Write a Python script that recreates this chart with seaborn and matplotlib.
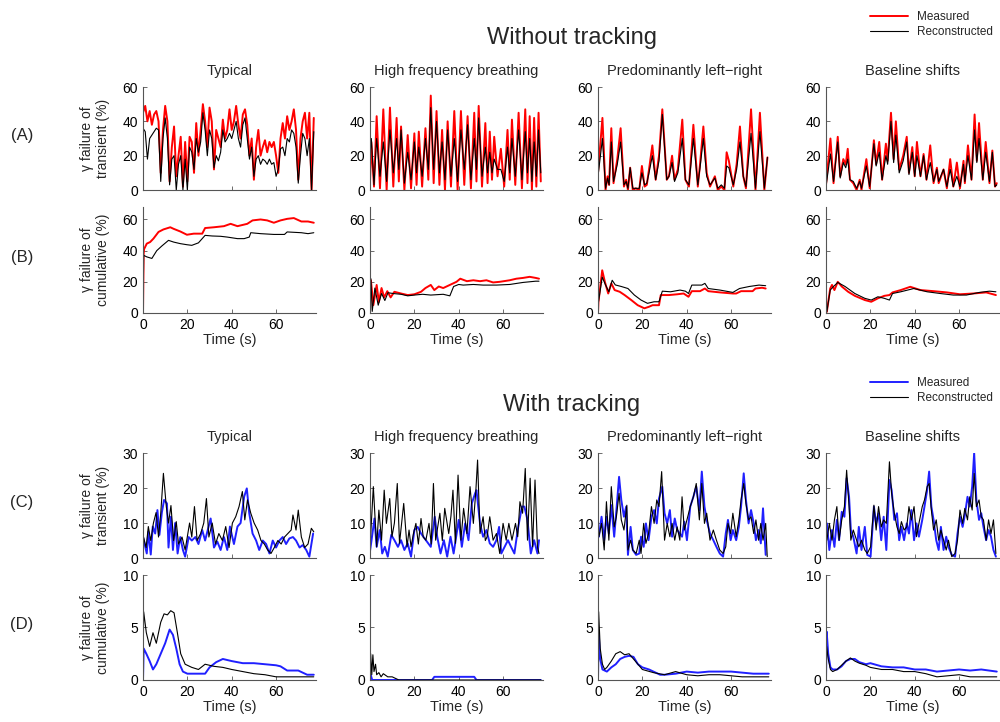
import numpy as np
import matplotlib
matplotlib.use("Agg")
import matplotlib.pyplot as plt
import seaborn as sns
from matplotlib.lines import Line2D

# ---------------- data ----------------
titles = ["Typical", "High frequency breathing", "Predominantly left\u2212right", "Baseline shifts"]

# Row A: transient, without tracking
a_typ_t = np.arange(0, 78)
a_typ_meas = [45, 49, 40, 46, 38, 44, 46, 40, 10, 35, 49, 40, 5, 25, 37, 8, 20, 31, 2, 28,
              5, 31, 28, 10, 39, 20, 35, 50, 40, 25, 48, 40, 12, 35, 30, 25, 41, 30, 35, 47,
              35, 40, 49, 38, 30, 44, 47, 38, 20, 30, 6, 25, 35, 20, 25, 29, 22, 28, 25, 28,
              20, 10, 30, 39, 30, 43, 35, 40, 47, 35, 6, 30, 40, 45, 30, 45, 0, 42]
a_typ_rec = [36, 34, 18, 30, 32, 34, 36, 35, 5, 30, 42, 30, 3, 18, 20, 0, 15, 20, 0, 18,
             0, 25, 22, 12, 30, 22, 28, 45, 35, 20, 35, 30, 13, 20, 17, 22, 35, 28, 30, 33,
             30, 35, 40, 30, 25, 38, 42, 30, 18, 25, 8, 18, 20, 15, 18, 17, 15, 18, 15, 16,
             8, 12, 24, 25, 20, 30, 28, 35, 33, 25, 4, 20, 33, 30, 20, 30, 0, 34]

a_hf_t = [0, 0.6, 1.8, 3, 4.5, 6, 7.5, 9, 10.5, 12, 13, 14, 15.5, 17, 18.5, 20, 21, 22, 23.5, 25,
          26.3, 27.4, 28.7, 30, 31.3, 32.5, 33.8, 35, 36.5, 38, 39.5, 41, 42.5, 44, 45.5, 47, 48, 49, 50.5, 52,
          53, 54, 55, 56, 57.5, 59, 60.5, 62, 63, 64, 65.5, 67, 68.5, 70, 71, 72, 73, 74, 75, 76, 77]
a_hf_meas = [5, 28, 2, 43, 1, 47, 0, 48, 2, 42, 5, 37, 0, 32, 1, 33, 3, 34, 2, 36,
             6, 55, 4, 46, 3, 35, 0, 40, 2, 46, 0, 46, 3, 43, 1, 45, 5, 49, 2, 39,
             4, 34, 6, 31, 8, 24, 2, 35, 6, 41, 3, 45, 1, 47, 4, 43, 0, 42, 2, 45, 5]
a_hf_rec = [20, 30, 3, 30, 8, 28, 5, 35, 10, 30, 12, 35, 4, 22, 6, 28, 10, 25, 8, 30,
            12, 48, 12, 40, 10, 28, 6, 35, 8, 30, 5, 35, 12, 38, 6, 30, 12, 42, 8, 25,
            10, 22, 10, 18, 12, 12, 5, 25, 10, 30, 8, 35, 6, 34, 10, 30, 5, 28, 8, 35, 10]

a_lr_t = [0, 2, 3.4, 4.3, 5, 6, 7, 8.7, 10.2, 11.7, 12.7, 13.5, 14.5, 15.7, 17, 18.6, 19.8, 21, 22, 23,
          24.5, 26, 27.5, 29, 31, 32, 33.4, 34.5, 36, 38, 39.4, 41, 43, 45, 46, 47.5, 49, 50.5, 52.7, 54,
          55.6, 57, 58, 59, 61, 62.5, 64, 65.5, 66.7, 69, 71, 73, 75, 76.4]
a_lr_meas = [10, 42, 0, 8, 3, 36, 4, 18, 36, 2, 6, 0, 13, 0, 1, 0, 14, 2, 3, 12,
             26, 6, 20, 47, 6, 8, 20, 6, 12, 41, 6, 2, 38, 2, 15, 37, 10, 2, 8, 0,
             2, 0, 22, 17, 2, 15, 37, 8, 1, 47, 0, 45, 0, 19]
a_lr_rec = [8, 30, 1, 7, 3, 28, 5, 15, 28, 3, 5, 1, 13, 1, 1, 1, 10, 3, 4, 10,
            20, 6, 17, 44, 6, 8, 16, 5, 10, 30, 6, 3, 30, 3, 13, 30, 8, 3, 7, 1,
            3, 1, 14, 13, 3, 12, 28, 8, 2, 33, 1, 34, 1, 19]

a_bs_t = [0, 2, 3.4, 5.3, 6.4, 7.8, 8.9, 9.8, 10.8, 12.3, 13.8, 15.2, 16, 18.2, 19.7, 21.6, 22.6, 24, 25.3, 27,
          27.8, 29.3, 30.5, 31.5, 33, 34.8, 36.4, 37.4, 38.9, 40, 41, 42.6, 44, 45.3, 47, 48.5, 50, 50.8, 53, 54.5,
          56, 57.4, 59, 60.4, 62, 62.6, 64, 65.6, 67, 68, 69, 70.7, 72, 73.7, 75, 76.2, 77]
a_bs_meas = [3, 30, 4, 31, 8, 18, 15, 24, 6, 4, 0, 6, 0, 18, 1, 29, 15, 28, 6, 27,
             17, 45, 18, 40, 12, 20, 31, 10, 25, 8, 28, 8, 21, 6, 26, 4, 13, 4, 12, 1,
             18, 2, 16, 1, 17, 4, 26, 6, 44, 17, 39, 6, 28, 4, 23, 2, 4]
a_bs_rec = [2, 21, 5, 28, 7, 16, 13, 18, 6, 5, 1, 5, 1, 14, 2, 27, 14, 22, 6, 20,
            15, 40, 16, 32, 10, 17, 28, 9, 22, 8, 20, 8, 20, 6, 16, 5, 12, 5, 12, 2,
            12, 2, 8, 2, 15, 5, 20, 6, 35, 16, 30, 6, 22, 5, 22, 2, 3]

# Row B: cumulative, without tracking
b_typ_t_meas = [0, 0.3, 0.5, 1.7, 3.2, 4.7, 7, 9.2, 12.3, 13.8, 16.8, 19.8, 22.9, 26.7, 28, 32, 36.5, 39.5, 42.6, 47,
                49.4, 53, 56, 59, 62, 65, 68, 71.4, 74.4, 77]
b_typ_meas = [0, 38, 41, 44.5, 45.5, 47.7, 52, 53.6, 55, 54, 52.3, 50.2, 50.9, 50.9, 54.5, 55, 55.7, 57.2, 55.7, 57.2,
              59.4, 60, 59.4, 57.9, 59.4, 60.4, 60.9, 58.7, 58.7, 57.9]
b_typ_t_rec = [0, 0.3, 1.7, 4, 6.2, 8.5, 11.5, 13.8, 16.8, 19.8, 22, 25, 28, 31.2, 35, 38, 42.6, 45.6, 47.9, 48.6,
               53, 59, 63.8, 65, 71.4, 74.4, 77]
b_typ_rec = [0, 37, 36, 35, 40, 43, 46.6, 45.5, 44.5, 43.8, 43.4, 45, 49.8, 49.4, 49.2, 48.7, 47.7, 47.7, 48.7, 51.5,
             50.9, 50.4, 50.4, 52, 51.5, 50.9, 51.5]

b_hf_t_meas = [0, 0.4, 1.5, 3, 4, 5.2, 6.4, 7.8, 9.3, 11, 14, 17, 20, 23, 25, 27.4, 29, 31, 33, 36,
               39, 40.7, 43.7, 46.6, 49.6, 52.5, 55.5, 58.5, 63, 66, 69, 72, 74.7, 76.2]
b_hf_meas = [0, 21, 5, 18, 7, 16, 10, 14, 10, 13.6, 12.5, 11.5, 12, 13.6, 16, 18, 14.7, 17, 16, 18,
             20, 22, 20.4, 21, 20.4, 21, 19.6, 20, 21, 22, 22.5, 23.2, 22.5, 22]
b_hf_t_rec = [0, 0.4, 1, 2.2, 3.7, 5.2, 6.7, 8.1, 10.4, 14, 17, 20, 23.7, 27.4, 33, 36, 37.7, 40, 42, 46.6,
              51, 57, 63, 69, 74.7, 76.2]
b_hf_rec = [0, 22, 1, 16, 5, 12.5, 8, 13, 12.5, 12, 11, 11.5, 12, 11.5, 12, 11, 17, 18.3, 17.9, 18.3,
            17.9, 17.9, 18.3, 19.6, 20.4, 20.4]

b_lr_t_meas = [0, 0.2, 1.9, 3.1, 4.6, 6, 7.5, 9.8, 12, 15, 17.9, 20.9, 23, 24.6, 27.5, 28.3, 32, 35.7, 38.6, 40.8,
               42.3, 46, 48.2, 49.7, 55, 60.8, 62.3, 64.5, 69.7, 71, 74, 75.6]
b_lr_meas = [0, 7, 27.4, 20, 12.5, 19, 14.7, 13.6, 11.5, 8.3, 5, 3, 4, 5, 5, 11.5, 11.5, 12, 12.5, 10.4,
             14, 14, 15.7, 14, 13.2, 12.5, 12.5, 14, 14, 15.7, 16.2, 15.7]
b_lr_t_rec = [0, 0.2, 1.9, 3.4, 4.9, 6.4, 7.8, 10.5, 13.5, 16.4, 19.4, 22.3, 25.3, 27.5, 29, 32.7, 37, 39.4, 40.8, 42.3,
              46.8, 48.2, 49.7, 55, 60.8, 63.8, 68.2, 72.6, 75.6]
b_lr_rec = [0, 7, 23, 18, 13.6, 21, 18, 17, 15.7, 11.5, 8.3, 6.2, 7.2, 7.2, 14, 13.6, 14.7, 14, 12.5, 17.9,
            17.9, 19, 15.7, 14.7, 13.2, 15.7, 17, 17.9, 17.5]

b_bs_t_meas = [0, 0.4, 1.9, 2.7, 3.8, 5.3, 7.1, 10, 13, 17.5, 20.4, 23.4, 26.3, 28.6, 30, 33.7, 38, 42.6, 48.5, 54.5,
               60.4, 66.3, 72.2, 76.6]
b_bs_meas = [0, 1, 15.7, 18, 14.7, 20, 17, 13.6, 11, 8.3, 7.2, 9.4, 11, 11.5, 13.2, 14.7, 16.8, 14.7, 14, 13.2,
             12, 12.5, 13.2, 11.5]
b_bs_t_rec = [0, 0.4, 1.9, 3.4, 5.3, 8.6, 13, 17.5, 20.4, 23.4, 26.3, 28.6, 30, 33.7, 39.6, 45.6, 51.5, 57.4, 63.3, 69.2,
              73.7, 76.6]
b_bs_rec = [0, 1, 14.7, 17, 19.6, 17, 12.5, 9.4, 8.3, 10.4, 9.4, 8.3, 12.5, 13.6, 15.7, 13.6, 12.5, 11.5, 11.5, 13.2,
            14, 13.6]

# Row C: transient, with tracking
c_typ_t_meas = [0, 1.7, 2.4, 3.5, 4.4, 5.5, 6.5, 7.4, 8.5, 9.5, 10.8, 11.5, 12.6, 13.5, 14.5, 15.6, 16.8, 18, 19, 20.6,
                22, 23.6, 25, 26.7, 28, 30.5, 32, 33.5, 35, 36.5, 38, 39.2, 41, 42.6, 44, 45.6, 46.8, 47.9, 49.4, 51,
                52.4, 54, 55.5, 57, 58.5, 60, 61.5, 63, 64.5, 66, 67.6, 69, 70.6, 72, 73.6, 75, 76.7]
c_typ_meas = [6, 1.3, 7.5, 1, 9, 7, 13.7, 6.6, 13, 16.6, 15.6, 3, 11.8, 2.3, 10, 1.3, 6, 2.3, 0.4, 6,
              5, 6, 4, 8, 5, 11.3, 3, 4.7, 2.3, 6, 2.3, 9, 4, 9, 10, 17.5, 19.9, 12.8, 7, 5,
              2.3, 5, 4, 1.3, 5, 3, 5, 6, 4, 5.6, 6, 5, 3, 3.7, 2.3, 0.4, 7]
c_typ_t_rec = [0, 1.4, 2.4, 3.5, 4.7, 5.9, 7, 8, 9.2, 10.5, 11.5, 12.6, 13.8, 15, 16, 17.6, 19, 21, 22, 23.2,
               24.4, 26, 27.4, 28.6, 29.7, 31.2, 32.7, 34.2, 35.8, 37.3, 38.8, 40.3, 41.8, 43.3, 44.8, 45.9, 47.1, 48.6, 50.1, 51.7,
               53.2, 54.7, 56.2, 57.7, 59.2, 60.8, 62.3, 63.8, 65.3, 66.8, 67.6, 69, 70, 71.4, 72.9, 74.4, 75.9, 77]
c_typ_rec = [6.6, 3, 9, 5, 10, 13, 6, 12.8, 24.2, 14.7, 10, 15, 5, 10.4, 4, 6, 2.3, 10, 6, 14.7,
             5, 7, 10, 17, 6, 10, 4, 7, 5, 9, 3, 10, 11.8, 14.7, 19, 10.9, 16.6, 12.8, 10, 8,
             5, 4, 2.3, 1.3, 3, 5, 4, 6, 7, 8, 12.3, 8, 13.7, 6, 3, 4, 8.5, 7.5]

c_hf_t_meas = [0, 0.7, 2, 3, 4.4, 5.5, 6.7, 8, 9.6, 11, 12.6, 14, 15.5, 17, 18.5, 20, 21.5, 23, 25.2, 27.4,
               29.2, 30.3, 31.8, 33.3, 34.8, 36.3, 37.7, 40, 41.4, 42.9, 44.4, 45.9, 47.4, 48, 49.6, 51, 52.5, 54, 55.5, 57,
               58.2, 59.2, 60.7, 62.2, 63.6, 65.1, 66.6, 68.5, 69.6, 71, 72.5, 74, 75.5, 76.2]
c_hf_meas = [2, 5.1, 11.3, 3.2, 8, 1.3, 3.2, 0.4, 6.6, 5.1, 3.2, 5.1, 2.3, 4.2, 0.4, 8, 8.9, 7, 5.1, 3.2,
             11.8, 6.1, 1.3, 5.1, 0.4, 6.1, 1.3, 10.9, 3.2, 9.9, 5.1, 15.6, 18.5, 19.4, 9.9, 6.1, 8, 4.2, 3.2, 5.1,
             8.9, 1.3, 3.2, 5.1, 3.2, 1.3, 8, 14.7, 14.7, 10.9, 1.3, 5.1, 1.3, 5.1]
c_hf_t_rec = [0, 1.5, 3, 4, 5.2, 6.4, 7.4, 8.9, 9.9, 11, 12.3, 13.3, 15.2, 16.7, 17.6, 18.5, 19.6, 20.7, 21.8, 23,
              24, 25.2, 26.6, 27.6, 28.6, 29.6, 31.5, 32.6, 33.7, 35.5, 36.5, 37.4, 38.5, 39.7, 41, 42.2, 43.7, 45.1, 46.6, 47.7,
              48.5, 49.6, 51, 52, 52.8, 54, 55.5, 57, 58.5, 60, 61.4, 62.6, 64, 65.6, 66.6, 67.6, 68.8, 70, 71, 72.2,
              73.3, 74.4, 75.5, 76.2]
c_hf_rec = [3, 20.4, 3.2, 13.7, 5.1, 19.4, 9.9, 17, 6.1, 10, 21.3, 4.2, 15.6, 3.2, 8, 3.2, 7, 9.9, 4, 11.3,
            6, 5.1, 9.9, 4, 21.3, 5.1, 12.8, 5, 14.2, 7, 12, 19.4, 4.2, 23.7, 5.1, 14.2, 7, 20.4, 9.9, 19,
            28, 7, 11.8, 5, 6.1, 11.8, 5.1, 7, 1.3, 9.9, 5.1, 9.9, 5.1, 9.9, 6.1, 16.1, 12.8, 25.6, 5.1, 22.8,
            3.2, 22.3, 3.2, 1.3]

c_lr_t_meas = [0.4, 1.6, 2.8, 3.8, 4.9, 6, 7.3, 8.3, 9.5, 10.5, 11.7, 12.7, 13.5, 14.7, 15.7, 17.2, 18.6, 19.4, 20.6, 21.6,
               22.8, 24.1, 25.3, 26.5, 27.5, 29, 30, 31.2, 32.4, 33.4, 34.6, 35.7, 36.9, 37.9, 38.9, 40.1, 41.6, 43, 44.3, 45.7,
               46.8, 48, 49, 50.5, 52, 53.4, 54.9, 56.4, 57.6, 58.6, 59.8, 60.8, 62.3, 63.5, 64.5, 65.7, 66.7, 67.9, 69, 70.2,
               71.2, 72.4, 73.4, 74.4, 75.6]
c_lr_meas = [6.1, 11.8, 5.1, 11.8, 7, 15.1, 6.1, 13.7, 23.2, 16.6, 11.8, 14.7, 0.9, 8.9, 2.3, 0.9, 1.3, 6.1, 3.2, 9.9,
             5.1, 11.8, 13.7, 9.9, 17, 20.4, 12.8, 9.9, 13.7, 6.1, 11.3, 8, 7, 6.1, 10.4, 5.1, 14.7, 17.5, 20.4, 13.7,
             24.7, 14.7, 10.9, 7, 5.1, 3.2, 1.3, 0.4, 7, 10.9, 5.1, 8, 5.1, 8.9, 14.7, 24.2, 16.6, 9.9, 13.7, 9.9,
             5.1, 8, 4.2, 14.2, 0.9]
c_lr_t_rec = [0.4, 1.6, 2.8, 3.8, 4.9, 6, 7.3, 8.3, 9.5, 10.5, 11.7, 13, 13.5, 14.7, 15.7, 17.2, 18.6, 19.4, 20.6, 21.6,
              22.8, 24.1, 25.3, 26.5, 27.5, 28.7, 30, 31.2, 32.4, 33.4, 34.6, 35.7, 36.9, 37.9, 38.9, 40.1, 41.6, 43, 44.3, 45.7,
              46.8, 48, 49, 50.5, 52, 53.4, 54.9, 56.4, 57.6, 58.6, 59.8, 60.8, 62.3, 63.5, 64.5, 65.7, 66.7, 67.9, 69, 70.2,
              71.2, 72.4, 73.4, 74.4, 75.6, 76.3]
c_lr_rec = [6.1, 9.9, 2.3, 16.1, 5.1, 20.4, 8.9, 11.8, 18.5, 10.9, 8, 15.1, 2.3, 5.1, 2.3, 1.3, 5.1, 1.3, 9.9, 4.2,
            7, 14.7, 9.9, 16.6, 14.7, 24.7, 5.1, 9.9, 6.1, 9.9, 5.1, 8.9, 5.1, 17.5, 8, 10.9, 14.7, 17.5, 21.3, 10.9,
            21.3, 9.9, 12.8, 5.1, 8, 5.1, 2.3, 1.3, 3.2, 9.9, 7, 12.8, 6.1, 10.9, 16.6, 21.3, 15.6, 10.9, 11.8, 7,
            10.9, 5.1, 9.9, 5.1, 9.9, 0.4]

c_bs_t = [0.4, 1.5, 2.7, 3.8, 4.9, 5.9, 7.1, 8.3, 9.3, 10.4, 11.2, 12.3, 13.8, 14.8, 16, 17.5, 18.6, 20.1, 21.6, 22.6,
          23.7, 24.9, 26, 27.2, 28.6, 29.6, 30.8, 32, 33, 34, 35.2, 36.4, 37.4, 38.5, 39.7, 40.8, 41.9, 43.4, 44.4, 45.6,
          46.5, 47.5, 48.5, 49.7, 50.8, 51.8, 53, 54.2, 55.2, 56.7, 58.2, 59.3, 60.4, 61.6, 62.6, 63.8, 64.8, 65.9, 66.8, 67.8,
          69, 70, 71, 72.2, 73.3, 74.4, 75.5, 76.6]
c_bs_meas = [9.9, 2.3, 8, 3.2, 10.9, 5.1, 13.2, 11.8, 22.8, 17.5, 8, 6.1, 1.3, 8.9, 2.3, 8.9, 0.9, 0.4, 14.7, 9.9,
             12.8, 5.1, 11.8, 2.3, 22.3, 19.4, 10.9, 12.8, 5.1, 8.9, 5.1, 9.9, 7, 13.7, 5.1, 9.9, 6.1, 10.9, 14.7, 19.4,
             24.7, 14.7, 10.9, 5.1, 2.3, 8.9, 2.3, 6.1, 3.2, 0.9, 0.4, 7, 11.8, 8.9, 12.3, 17.5, 14.7, 20.4, 30, 16.6,
             10.9, 12.8, 8.9, 5.1, 8, 6.1, 2.3, 0.4]
c_bs_rec = [5.1, 9.9, 5.1, 10.9, 14.7, 5.1, 10.9, 14.7, 25.1, 14.7, 5.1, 8, 5.1, 3.2, 5.1, 2.3, 1.3, 3.2, 15.1, 8,
            14.7, 8.9, 10.9, 9.9, 27.5, 18.5, 12.8, 8.9, 7, 10.4, 8, 8.9, 14.7, 10.9, 14.7, 6.1, 9.9, 14.7, 16.6, 20.4,
            21.3, 13.7, 8, 10.9, 5.1, 8, 5.1, 2.3, 5.1, 0.4, 1.3, 5.1, 13.7, 9.9, 14.2, 10.9, 17.5, 13.7, 24.2, 14.7,
            16.6, 11.8, 10.9, 5.1, 10.9, 7, 10.9, 1.3]

# Row D: cumulative, with tracking
d_typ_t_meas = [0, 0.3, 1.5, 3, 4.5, 6, 8, 10, 12, 13.5, 15, 16.5, 18, 20, 25, 28, 30, 33, 36, 40,
                45, 50, 55, 60, 62, 65, 70, 74, 77]
d_typ_meas = [0, 3, 2.5, 1.8, 1.0, 1.5, 2.5, 3.5, 4.8, 4.3, 3.0, 1.5, 0.8, 0.6, 0.6, 0.6, 1.2, 1.7, 2.0, 1.8,
              1.6, 1.6, 1.5, 1.4, 1.3, 0.9, 0.9, 0.5, 0.5]
d_typ_t_rec = [0, 0.3, 1.5, 3, 4.5, 6, 8, 9.5, 11, 12.5, 14, 15.5, 17, 19, 22, 25, 28, 32, 36, 40,
               45, 50, 55, 60, 65, 70, 77]
d_typ_rec = [0, 6.5, 4.5, 3.2, 4.5, 3.5, 5.5, 6.3, 6.2, 6.6, 6.4, 4.5, 2.5, 1.5, 1.2, 1.0, 1.5, 1.3, 1.2, 1.0,
             0.8, 0.6, 0.5, 0.3, 0.3, 0.3, 0.3]

d_hf_t_meas = [0, 0.3, 1, 2, 28, 29, 47, 48, 77]
d_hf_meas = [0, 0.5, 0, 0, 0, 0.3, 0.3, 0, 0]
d_hf_t_rec = [0, 0.3, 0.8, 1.3, 1.8, 2.5, 3, 4, 5, 6, 8, 10, 12, 13, 77]
d_hf_rec = [0, 2.5, 0.5, 2.4, 0.8, 1.5, 0.5, 0.7, 0.3, 0.6, 0.3, 0.3, 0.1, 0, 0]

d_lr_t_meas = [0, 0.3, 1, 2, 4, 6, 8, 10, 12, 14, 16, 18, 20, 23, 25, 28, 30, 35, 40, 45,
               50, 55, 60, 65, 70, 77]
d_lr_meas = [0, 4.5, 2, 1, 0.8, 1.2, 1.5, 2, 2.2, 2.3, 2.2, 1.5, 1.2, 1.0, 0.8, 0.5, 0.5, 0.6, 0.8, 0.7,
             0.8, 0.8, 0.8, 0.7, 0.6, 0.6]
d_lr_t_rec = [0, 0.3, 1, 2, 3, 4, 6, 8, 10, 12, 14, 16, 18, 20, 25, 30, 35, 40, 45, 50,
              55, 60, 65, 70, 77]
d_lr_rec = [0, 6.5, 3, 1.5, 1, 1.2, 1.8, 2.5, 2.7, 2.4, 2.5, 2, 1.5, 1.0, 0.7, 0.5, 0.8, 0.5, 0.4, 0.5,
            0.5, 0.4, 0.3, 0.3, 0.3]

d_bs_t = [0, 0.3, 1, 2, 3, 5, 7, 9, 11, 13, 15, 18, 20, 25, 30, 35, 40, 45, 50, 55,
          60, 65, 70, 77]
d_bs_meas = [0, 4.6, 2.5, 1.2, 1.0, 1.0, 1.3, 1.8, 2.0, 2.0, 1.7, 1.5, 1.6, 1.3, 1.2, 1.2, 1.0, 1.0, 0.8, 0.9,
             1.0, 0.9, 1.0, 0.8]
d_bs_rec = [0, 3.2, 2.0, 1.0, 0.8, 1.0, 1.4, 1.8, 2.1, 1.8, 1.6, 1.4, 1.2, 1.0, 1.0, 0.8, 0.8, 0.6, 0.3, 0.4,
            0.5, 0.3, 0.3, 0.3]

rows = {
    "A": [(a_typ_t, a_typ_meas, a_typ_t, a_typ_rec), (a_hf_t, a_hf_meas, a_hf_t, a_hf_rec),
          (a_lr_t, a_lr_meas, a_lr_t, a_lr_rec), (a_bs_t, a_bs_meas, a_bs_t, a_bs_rec)],
    "B": [(b_typ_t_meas, b_typ_meas, b_typ_t_rec, b_typ_rec), (b_hf_t_meas, b_hf_meas, b_hf_t_rec, b_hf_rec),
          (b_lr_t_meas, b_lr_meas, b_lr_t_rec, b_lr_rec), (b_bs_t_meas, b_bs_meas, b_bs_t_rec, b_bs_rec)],
    "C": [(c_typ_t_meas, c_typ_meas, c_typ_t_rec, c_typ_rec), (c_hf_t_meas, c_hf_meas, c_hf_t_rec, c_hf_rec),
          (c_lr_t_meas, c_lr_meas, c_lr_t_rec, c_lr_rec), (c_bs_t, c_bs_meas, c_bs_t, c_bs_rec)],
    "D": [(d_typ_t_meas, d_typ_meas, d_typ_t_rec, d_typ_rec), (d_hf_t_meas, d_hf_meas, d_hf_t_rec, d_hf_rec),
          (d_lr_t_meas, d_lr_meas, d_lr_t_rec, d_lr_rec), (d_bs_t, d_bs_meas, d_bs_t, d_bs_rec)],
}

# ---------------- style ----------------
sns.set_style("ticks")
plt.rcParams['font.family'] = ['Liberation Sans', 'DejaVu Sans']
plt.rcParams['xtick.direction'] = 'in'
plt.rcParams['ytick.direction'] = 'in'
plt.rcParams['axes.edgecolor'] = '#555555'
plt.rcParams['axes.linewidth'] = 0.8

fig = plt.figure(figsize=(10, 7.22), dpi=100)

lefts = [0.143, 0.370, 0.598, 0.826]
width = 0.173
geom = {"A": (0.7368, 0.1427), "B": (0.5665, 0.1468), "C": (0.2271, 0.1454), "D": (0.0582, 0.1454)}
ylims = {"A": (0, 60), "B": (0, 68), "C": (0, 30), "D": (0, 10)}
yticks = {"A": [0, 20, 40, 60], "B": [0, 20, 40, 60], "C": [0, 10, 20, 30], "D": [0, 5, 10]}
meas_color = {"A": "red", "B": "red", "C": "#2020ff", "D": "#2020ff"}
ylab = {"A": "\u03b3 failure of\ntransient (%)", "B": "\u03b3 failure of\ncumulative (%)",
        "C": "\u03b3 failure of\ntransient (%)", "D": "\u03b3 failure of\ncumulative (%)"}

for r, panels in rows.items():
    bottom, height = geom[r]
    for j, (tm, ym, tr, yr) in enumerate(panels):
        ax = fig.add_axes([lefts[j], bottom, width, height])
        sns.lineplot(x=np.asarray(tm, float), y=np.asarray(ym, float), ax=ax, color=meas_color[r],
                     linewidth=1.4, estimator=None, sort=False)
        sns.lineplot(x=np.asarray(tr, float), y=np.asarray(yr, float), ax=ax, color="black",
                     linewidth=0.8, estimator=None, sort=False)
        ax.set_xlim(0, 78)
        ax.set_ylim(*ylims[r])
        ax.set_xticks([0, 20, 40, 60])
        ax.set_yticks(yticks[r])
        ax.tick_params(labelsize=10, length=3, width=0.6, colors='#555555', labelcolor='black')
        sns.despine(ax=ax)
        if r in ("B", "D"):
            ax.set_xlabel("Time (s)", fontsize=10.5, labelpad=1)
        else:
            ax.set_xlabel("")
            ax.set_xticklabels([])
        ax.set_ylabel("")
        if r in ("A", "C"):
            ax.set_title(titles[j], fontsize=10.5, pad=9)
    fig.text(0.095, bottom + height / 2, ylab[r], rotation=90, ha='center', va='center', fontsize=10)
    fig.text(0.022, bottom + height / 2 + 0.004, "(%s)" % r, ha='center', va='center', fontsize=12)

fig.text(0.572, 1 - 38 / 722, "Without tracking", ha='center', va='center', fontsize=17)
fig.text(0.572, 1 - 405 / 722, "With tracking", ha='center', va='center', fontsize=17)

leg1 = [Line2D([], [], color='red', lw=1.4), Line2D([], [], color='black', lw=0.8)]
leg2 = [Line2D([], [], color='#2020ff', lw=1.4), Line2D([], [], color='black', lw=0.8)]
fig.legend(leg1, ["Measured", "Reconstructed"], loc='upper right', bbox_to_anchor=(1.0, 0.995),
           frameon=False, fontsize=8.5, handlelength=3.2, labelspacing=0.25, borderaxespad=0.2)
fig.legend(leg2, ["Measured", "Reconstructed"], loc='upper right', bbox_to_anchor=(1.0, 0.488),
           frameon=False, fontsize=8.5, handlelength=3.2, labelspacing=0.25, borderaxespad=0.2)

fig.savefig("out.png", dpi=100)
